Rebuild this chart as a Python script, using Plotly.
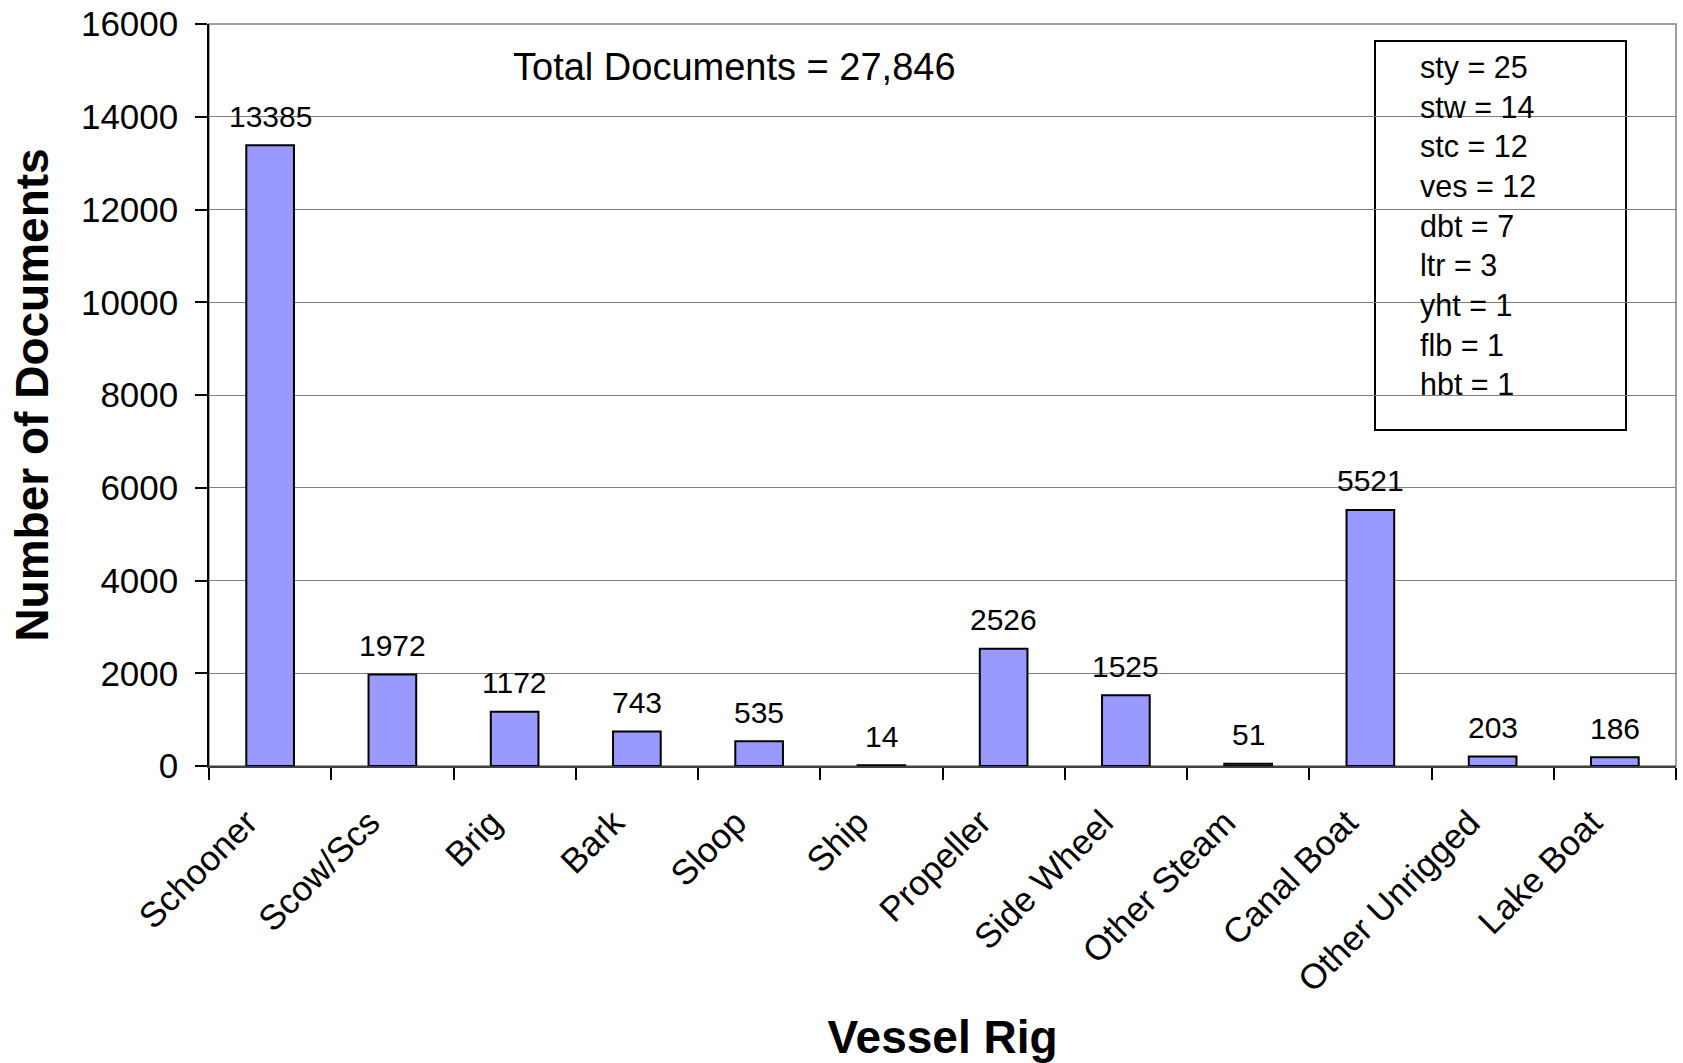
import plotly.graph_objects as go

categories = ["Schooner", "Scow/Scs", "Brig", "Bark", "Sloop", "Ship", "Propeller",
              "Side Wheel", "Other Steam", "Canal Boat", "Other Unrigged", "Lake Boat"]
counts = [13385, 1972, 1172, 743, 535, 14, 2526, 1525, 51, 5521, 203, 186]
other_labels = ["sty", "stw", "stc", "ves", "dbt", "ltr", "yht", "flb", "hbt"]
other_counts = [25, 14, 12, 12, 7, 3, 1, 1, 1]
total_text = "Total Documents = 27,846"
y_ticks = [0, 2000, 4000, 6000, 8000, 10000, 12000, 14000, 16000]
y_tick_text = [str(v) for v in y_ticks]

FONT = "Liberation Sans, Arial, sans-serif"

fig = go.Figure()
fig.add_trace(go.Bar(
    x=categories, y=counts,
    marker=dict(color="#9999FF", line=dict(color="black", width=2)),
    width=0.39,
    cliponaxis=False,
))

# value labels above each bar
for c, v in zip(categories, counts):
    fig.add_annotation(
        x=c, y=v, xref="x", yref="y", text=str(v), showarrow=False,
        xanchor="center", yanchor="middle", yshift=29,
        font=dict(family=FONT, size=30, color="black"),
    )

fig.update_layout(
    width=1683, height=1063,
    margin=dict(l=209, r=7, t=24, b=297),
    paper_bgcolor="white", plot_bgcolor="white",
    font=dict(family=FONT, color="black"),
    showlegend=False,
    bargap=0.61,
)

fig.update_xaxes(
    type="category", tickson="boundaries", ticks="outside", ticklen=12,
    tickcolor="black", tickwidth=1.5,
    showline=True, linecolor="#404040", linewidth=2,
    tickangle=-45, tickfont=dict(family=FONT, size=35, color="black"),
    ticklabelstandoff=20, ticklabelshift=-23,
    title=dict(text="<b>Vessel Rig</b>", font=dict(family=FONT, size=46, color="black"), standoff=26),
    showgrid=False, automargin=False,
)
fig.update_yaxes(
    range=[0, 16000], tickvals=y_ticks, ticktext=y_tick_text, ticks="outside", ticklen=12,
    tickcolor="black", tickwidth=1.5,
    showline=True, linecolor="black", linewidth=1.5,
    showgrid=True, gridcolor="#808080", gridwidth=1,
    tickfont=dict(family=FONT, size=35, color="black"),
    ticklabelstandoff=10,
    title=dict(text="<b>Number of Documents</b>", font=dict(family=FONT, size=46, color="black"), standoff=18),
    zeroline=False, automargin=False,
)

# plot area border (top/right gray)
fig.add_shape(type="rect", xref="paper", yref="paper", x0=0, x1=1, y0=0, y1=1,
              line=dict(color="#808080", width=1.5), layer="below")

fig.add_annotation(
    text=total_text, xref="paper", yref="paper",
    x=(734 - 209) / (1676 - 209), y=(766 - 67) / (766 - 24),
    xanchor="center", yanchor="middle", showarrow=False,
    font=dict(family=FONT, size=38, color="black"),
)

box_text = "<br>".join(f"{k} = {v}" for k, v in zip(other_labels, other_counts))
fig.add_annotation(
    text=box_text, xref="paper", yref="paper",
    x=(1418 - 209) / (1676 - 209), y=(766 - 226) / (766 - 24),
    xanchor="left", yanchor="middle", align="left", showarrow=False,
    font=dict(family=FONT, size=30.5, color="black"),
)
fig.add_shape(type="rect", xref="paper", yref="paper",
              x0=(1375 - 209) / (1676 - 209), x1=(1626 - 209) / (1676 - 209),
              y0=(766 - 430) / (766 - 24), y1=(766 - 41) / (766 - 24),
              line=dict(color="black", width=2), fillcolor="white", layer="below")

fig.write_html("out.html")
